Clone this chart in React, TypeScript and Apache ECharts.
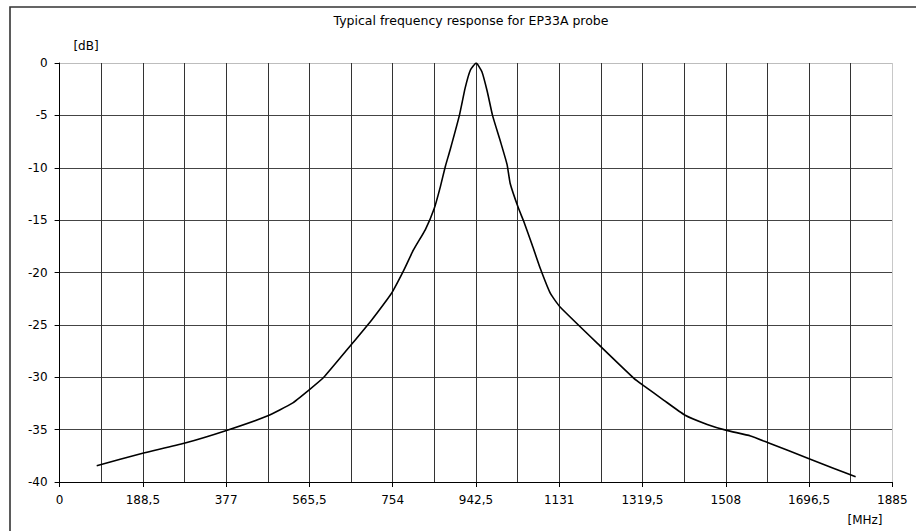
import React, { useEffect, useRef } from "react";
import * as echarts from "echarts";

const titleText = "Typical frequency response for EP33A probe";
const yUnit = "[dB]";
const xUnit = "[MHz]";

const freqMHz = [84, 188, 282, 376, 470, 526, 565, 598, 660, 707, 741, 754, 779, 801, 828, 848, 862, 873, 884, 905, 918, 930, 943, 956, 968, 980, 998, 1013, 1020, 1039, 1051, 1070, 1088, 1111, 1133, 1228, 1300, 1322, 1368, 1415, 1466, 1510, 1564, 1604, 1698, 1753, 1802];
const levelDb = [-38.44, -37.26, -36.3, -35.1, -33.7, -32.5, -31.2, -30.0, -26.9, -24.5, -22.6, -21.8, -19.8, -17.85, -15.9, -13.9, -11.8, -9.9, -8.3, -5.0, -2.4, -0.67, 0, -0.83, -2.7, -5.0, -7.5, -9.7, -11.5, -13.9, -15.15, -17.4, -19.6, -22.0, -23.3, -27.2, -30.1, -30.8, -32.2, -33.6, -34.5, -35.07, -35.6, -36.25, -37.8, -38.7, -39.5];

const xMin = 0;
const xMax = 1885;
const xStep = 188.5;
const yMin = -40;
const yMax = 0;
const yStep = 5;

const FONT = '"DejaVu Sans", sans-serif';

export default function App() {
  const ref = useRef<HTMLDivElement>(null);
  useEffect(() => {
    if (!ref.current) return;
    const chart = echarts.init(ref.current, null, { renderer: "svg" });
    const xCount = Math.round((xMax - xMin) / xStep);
    const yCount = Math.round((yMax - yMin) / yStep);
    const xSplitColors = Array(xCount).fill("#333").concat(["#c8c8c8"]);
    const ySplitColors = Array(yCount).fill("#444").concat(["#bdbdbd"]);
    chart.setOption({
      animation: false,
      backgroundColor: "#fff",
      grid: { left: 59.6, right: 23.7, top: 63, bottom: 49, containLabel: false },
      xAxis: {
        type: "value",
        min: xMin,
        max: xMax,
        interval: xStep,
        axisLine: { show: true, onZero: false, lineStyle: { color: "#000", width: 1 } },
        axisTick: { show: true, length: 5, lineStyle: { color: "#000" } },
        axisLabel: {
          margin: 12,
          color: "#000",
          fontFamily: FONT,
          fontSize: 12,
          formatter: (v: number) => String(Math.round(v * 10) / 10).replace(".", ","),
        },
        splitLine: { show: true, lineStyle: { color: xSplitColors, width: 1 } },
        minorTick: { show: false, splitNumber: 2 },
        minorSplitLine: { show: true, lineStyle: { color: "#333", width: 1 } },
      },
      yAxis: {
        type: "value",
        min: yMin,
        max: yMax,
        interval: yStep,
        axisLine: { show: true, onZero: false, lineStyle: { color: "#000", width: 1 } },
        axisTick: { show: true, length: 5, lineStyle: { color: "#000" } },
        axisLabel: {
          margin: 12,
          color: "#000",
          fontFamily: FONT,
          fontSize: 12,
        },
        splitLine: { show: true, lineStyle: { color: ySplitColors, width: 1 } },
      },
      series: [
        {
          type: "line",
          data: freqMHz.map((f, i) => [f, levelDb[i]]),
          showSymbol: false,
          smooth: 0.15,
          lineStyle: { color: "#000", width: 1.6 },
          z: 5,
        },
      ],
      graphic: [
        {
          type: "rect",
          shape: { x: 10, y: 7, width: 1000, height: 1000 },
          style: { fill: "none", stroke: "#333", lineWidth: 1.6 },
          silent: true,
        },
        {
          type: "text",
          x: 471,
          y: 20.5,
          style: { text: titleText, font: `12.5px ${FONT}`, fill: "#000", align: "center", verticalAlign: "middle" },
        },
        {
          type: "text",
          x: 86,
          y: 45.5,
          style: { text: yUnit, font: `12px ${FONT}`, fill: "#000", align: "center", verticalAlign: "middle" },
        },
        {
          type: "text",
          x: 865,
          y: 519.5,
          style: { text: xUnit, font: `12px ${FONT}`, fill: "#000", align: "center", verticalAlign: "middle" },
        },
      ],
    });
    return () => chart.dispose();
  }, []);
  return (
    <div
      ref={ref}
      style={{ position: "fixed", left: 0, top: 0, width: 916, height: 531, background: "#fff" }}
    />
  );
}
